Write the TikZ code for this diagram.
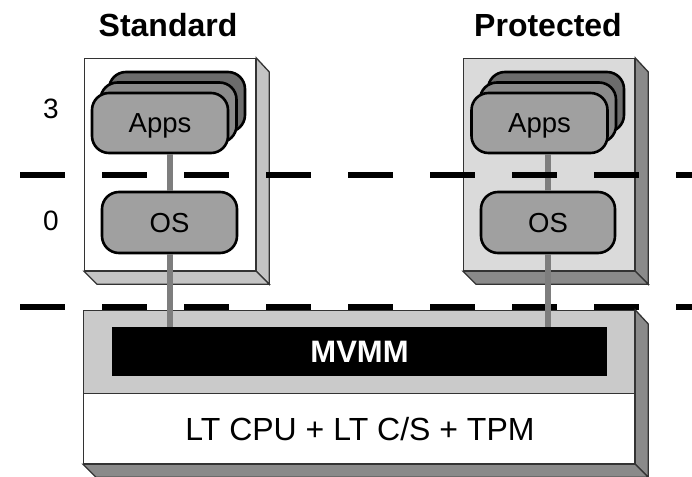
\documentclass[tikz,border=0pt]{standalone}
\usepackage{fontspec}
\setmainfont{Liberation Sans}
\usetikzlibrary{calc}
\definecolor{stdside}{HTML}{C4C4C4}
\definecolor{prfront}{HTML}{DADADA}
\definecolor{darkside}{HTML}{8A8A8A}
\definecolor{band}{HTML}{CACACA}
\definecolor{appfront}{HTML}{A0A0A0}
\definecolor{appmid}{HTML}{8A8A8A}
\definecolor{appback}{HTML}{6C6C6C}
\definecolor{linkgray}{HTML}{7E7E7E}
\begin{document}
\begin{tikzpicture}[x=1pt,y=-1pt,
  face/.style={draw=black!80, line width=1.3pt, inner sep=0pt},
  pill/.style={draw=black, line width=2.6pt, rounded corners=17pt, inner sep=0pt,
    minimum height=60pt, minimum width=136pt, text height=19.7pt, text depth=0pt,
    font=\fontsize{27.5}{30}\selectfont},
  conn/.style={draw=linkgray, line width=6pt},
  dashline/.style={line width=6pt, dash pattern=on 45pt off 37pt},
  head/.style={font=\bfseries\fontsize{32}{36}\selectfont},
  ring/.style={font=\fontsize{28}{32}\selectfont, text height=20pt, text depth=0pt, inner sep=0pt}
]
\useasboundingbox (0,0) rectangle (692,476);
\clip (0,0) rectangle (692,476);

% headings
\node[head] (hstd) at (168,25) {Standard};
\node[head] (hpro) at (548,25) {Protected};
\node[ring] (r3) at (51,108) {3};
\node[ring] (r0) at (51,220) {0};

% lower dashed line
\coordinate (dl1) at (20,307);
\coordinate (dr1) at (700,307);
\draw[dashline] (dl1) -- (dr1);

% platform
\node[face, fill=white, minimum width=551pt, minimum height=153pt, anchor=north west] (plat) at (83,310) {};
\filldraw[face, fill=darkside] (plat.north east) -- ($(plat.north east)+(13,14)$) -- ($(plat.south east)+(13,13)$) -- (plat.south east) -- cycle;
\filldraw[face, fill=darkside] (plat.south west) -- ($(plat.south west)+(13,13)$) -- ($(plat.south east)+(13,13)$) -- (plat.south east) -- cycle;
\node[face, fill=band, minimum width=551pt, minimum height=83pt, anchor=north west] (bandbox) at (83,310) {};
\node[fill=black, inner sep=0pt, minimum width=495pt, minimum height=49pt, text=white,
  font=\bfseries\fontsize{31}{34}\selectfont] (mvmm) at (359.5,351.5) {MVMM};
\node[font=\fontsize{32}{36}\selectfont] (hw) at (360,429) {LT CPU + LT C/S + TPM};

% standard box
\node[face, fill=white, minimum width=171pt, minimum height=212pt, anchor=north west] (stdbox) at (84,58) {};
\filldraw[face, fill=stdside] (stdbox.north east) -- ($(stdbox.north east)+(13,14)$) -- ($(stdbox.south east)+(13,13)$) -- (stdbox.south east) -- cycle;
\filldraw[face, fill=stdside] (stdbox.south west) -- ($(stdbox.south west)+(13,13)$) -- ($(stdbox.south east)+(13,13)$) -- (stdbox.south east) -- cycle;

% protected box
\node[face, fill=prfront, minimum width=171pt, minimum height=212pt, anchor=north west] (probox) at (463,58) {};
\filldraw[face, fill=darkside] (probox.north east) -- ($(probox.north east)+(13,14)$) -- ($(probox.south east)+(13,13)$) -- (probox.south east) -- cycle;
\filldraw[face, fill=darkside] (probox.south west) -- ($(probox.south west)+(13,13)$) -- ($(probox.south east)+(13,13)$) -- (probox.south east) -- cycle;

% standard stack
\node[pill, fill=appback] (appsS3) at (177,102) {};
\node[pill, fill=appmid] (appsS2) at (168.5,112.5) {};
\node[pill, fill=appfront] (appsS) at (160,123) {Apps};
\node[pill, fill=appfront, minimum width=135pt, minimum height=61pt] (osS) at (169.5,222.5) {OS};

% protected stack
\node[pill, fill=appback] (appsP3) at (556,102) {};
\node[pill, fill=appmid] (appsP2) at (548,112.5) {};
\node[pill, fill=appfront] (appsP) at (539.5,123) {Apps};
\node[pill, fill=appfront, minimum width=134pt, minimum height=61pt] (osP) at (548,222.5) {OS};

% connectors
\draw[conn] (appsS.south -| osS.north) -- (osS.north);
\draw[conn] (osS.south) -- (mvmm.north -| osS.south);
\draw[conn] (appsP.south -| osP.north) -- (osP.north);
\draw[conn] (osP.south) -- (mvmm.north -| osP.south);

% upper dashed line
\coordinate (dl2) at (20,175);
\coordinate (dr2) at (700,175);
\draw[dashline] (dl2) -- (dr2);
\end{tikzpicture}
\end{document}
